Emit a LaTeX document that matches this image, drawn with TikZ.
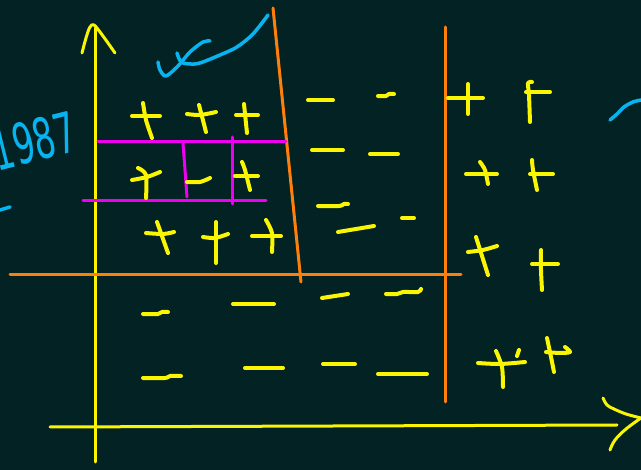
\documentclass[tikz,border=0pt]{standalone}
\usepackage{fontspec}
\setsansfont{DejaVu Sans}
\definecolor{bg}{HTML}{022224}
\definecolor{pyel}{HTML}{FAF500}
\definecolor{porg}{HTML}{FF7F0A}
\definecolor{pmag}{HTML}{F000F0}
\definecolor{pcyan}{HTML}{08B4F0}
\tikzset{
  ink/.style={pyel, line width=4pt, line cap=round, line join=round},
  axisline/.style={pyel, line width=3pt, line cap=round, line join=round},
  orangeline/.style={porg, line width=3pt, line cap=round},
  magline/.style={pmag, line width=3pt, line cap=round},
  cyanline/.style={pcyan, line width=3.5pt, line cap=round, line join=round},
}
\begin{document}
\begin{tikzpicture}[x=1pt, y=-1pt]
\fill[bg] (0,0) rectangle (641,470);
\useasboundingbox (0,0) rectangle (641,470);
\begin{scope}
\clip (0,0) rectangle (641,470);
% axes
\draw[axisline] (95,28) -- (95,462);
\draw[axisline] plot[smooth, tension=0.6] coordinates {(82,53) (86,38) (90,27) (94,25) (100,32) (108,43) (115,53)};
\draw[axisline] (50,427) -- (617,425);
\draw[axisline] plot[smooth, tension=0.6] coordinates {(603,398) (607,405) (614,409) (626,414) (641,418)};
\draw[axisline] plot[smooth, tension=0.6] coordinates {(641,418) (626,429) (615,440) (610,450)};
% orange lines
\draw[orangeline] (10,275) -- (461,275);
\draw[orangeline] (445,27) -- (445,402);
\draw[orangeline] (273,8) -- (301,282);
% magenta grid
\draw[magline] (98,142) -- (286,142);
\draw[magline] (83,201) -- (266,201);
\draw[magline] (183,143) -- (187,197);
\draw[magline] (232,137) -- (232,204);
% cyan
\node[pcyan, rotate=14, inner sep=0pt] (year) at (34,141) {\scalebox{0.6}[1]{\fontsize{56}{56}\sffamily 1987}};
\draw[cyanline] (0,210) -- (10,207);
\draw[cyanline] plot[smooth, tension=0.5] coordinates {(158,62) (160,70) (166,76) (178,66) (190,52) (203,42) (210,41)};
\draw[cyanline] plot[smooth, tension=0.5] coordinates {(177,53) (181,62) (190,64) (200,63) (220,55) (237,47) (253,34) (268,15)};
\draw[cyanline] plot[smooth, tension=0.5] coordinates {(610,120) (617,114) (624,107) (633,102) (641,100)};
% pluses, top-left region
\draw[ink] (132,116) -- (160,116);
\draw[ink] plot[smooth] coordinates {(143,103) (146,120) (152,138)};
\draw[ink] plot[smooth] coordinates {(187,114) (200,115) (216,112)};
\draw[ink] (199,105) -- (206,132);
\draw[ink] (236,115) -- (258,115);
\draw[ink] (244,104) -- (247,133);
\draw[ink] plot[smooth] coordinates {(132,180) (147,177) (160,172)};
\draw[ink] plot[smooth] coordinates {(138,168) (146,175) (146,198)};
\draw[ink] plot[smooth] coordinates {(187,182) (200,182) (210,178)};
\draw[ink] (235,176) -- (258,176);
\draw[ink] plot[smooth] coordinates {(242,162) (245,170) (250,190)};
\draw[ink] plot[smooth] coordinates {(146,233) (163,234) (174,232)};
\draw[ink] (157,222) -- (168,253);
\draw[ink] plot[smooth] coordinates {(203,237) (215,238) (228,234)};
\draw[ink] (216,222) -- (216,263);
\draw[ink] (252,236) -- (281,236);
\draw[ink] plot[smooth] coordinates {(266,220) (272,233) (272,252)};
% minus signs, upper-middle region
\draw[ink] (308,100) -- (333,100);
\draw[ink] plot[smooth] coordinates {(378,96) (386,96) (389,94) (394,94)};
\draw[ink] (312,150) -- (343,150);
\draw[ink] (370,154) -- (398,154);
\draw[ink] plot[smooth] coordinates {(318,206) (339,206) (344,204) (348,204)};
\draw[ink] (338,232) -- (374,226);
\draw[ink] (402,218) -- (414,218);
% minus signs, lower region
\draw[ink] plot[smooth] coordinates {(143,314) (158,314) (162,312) (168,312)};
\draw[ink] (233,304) -- (274,304);
\draw[ink] (322,298) -- (348,294);
\draw[ink] plot[smooth] coordinates {(386,294) (397,294) (403,292) (418,292) (421,289)};
\draw[ink] plot[smooth] coordinates {(143,378) (165,378) (170,376) (181,376)};
\draw[ink] (245,368) -- (283,368);
\draw[ink] (323,364) -- (355,364);
\draw[ink] (378,374) -- (427,374);
% pluses, right region
\draw[ink] (448,98) -- (483,98);
\draw[ink] (468,84) -- (468,114);
\draw[ink] (526,92) -- (550,92);
\draw[ink] plot[smooth] coordinates {(532,82) (528,83) (529,95) (530,122)};
\draw[ink] (466,174) -- (497,174);
\draw[ink] plot[smooth] coordinates {(480,162) (485,170) (488,184)};
\draw[ink] (530,174) -- (553,174);
\draw[ink] plot[smooth] coordinates {(532,160) (533,170) (537,190)};
\draw[ink] plot[smooth] coordinates {(468,252) (483,250) (497,246)};
\draw[ink] (476,237) -- (488,275);
\draw[ink] (532,264) -- (558,264);
\draw[ink] plot[smooth] coordinates {(541,250) (541,270) (542,290)};
\draw[ink] plot[smooth] coordinates {(478,363) (500,364) (525,362)};
\draw[ink] plot[smooth] coordinates {(496,351) (502,367) (503,387)};
\draw[ink] (519,350) -- (517,356);
\draw[ink] plot[smooth] coordinates {(547,338) (551,357) (554,372)};
\draw[ink] plot[smooth] coordinates {(546,352) (560,353) (570,352) (565,347)};
\end{scope}
\end{tikzpicture}
\end{document}
